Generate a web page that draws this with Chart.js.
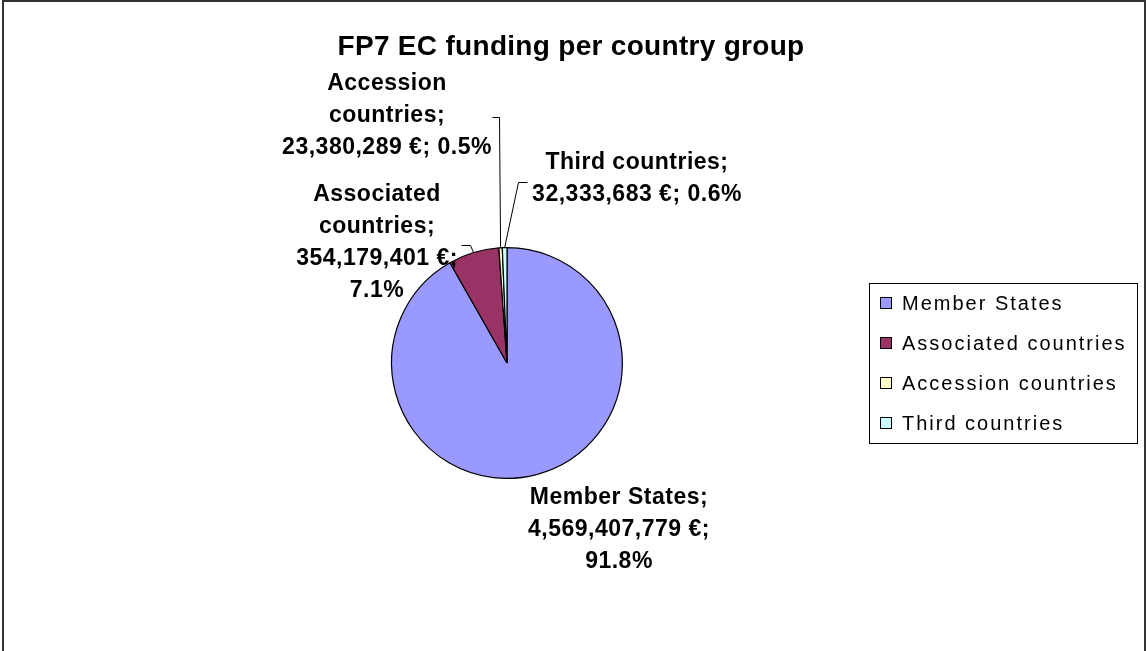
<!DOCTYPE html>
<html><head><meta charset="utf-8">
<script src="https://cdn.jsdelivr.net/npm/chart.js@4/dist/chart.umd.min.js"></script>
<style>html,body{margin:0;padding:0;background:#fff}#wrap{width:1146px;height:651px;position:relative}canvas{display:block}</style>
</head><body><div id="wrap"><canvas id="c" width="1146" height="651"></canvas></div>
<script>
const chartTitle = 'FP7 EC funding per country group';
const categories = ['Member States', 'Associated countries', 'Accession countries', 'Third countries'];
const funding = [4569407779, 354179401, 23380289, 32333683];
const colors = ['#9999FF', '#993366', '#FFFFCC', '#CCFFFF'];

// label layout (style only): words per line, offset of block centre from pie centre, leader elbow points
const labelLayout = [
  { lines: [2, 2, 1], dx: 112, dy: 167, leader: null },
  { lines: [1, 1, 2, 1], dx: -130, dy: -120, leader: [[-46, -118], [-37, -118]] },
  { lines: [1, 1, 3], dx: -120, dy: -247, leader: [[-15, -246], [-8, -246]] },
  { lines: [2, 3], dx: 130, dy: -184, leader: [[20, -181], [11, -181]] }
];
const FONT = '"Liberation Sans", Arial, sans-serif';

const total = funding.reduce((a, b) => a + b, 0);
function labelWords(i) {
  const pct = (funding[i] / total * 100).toFixed(1) + '%';
  return (categories[i] + '; ' + funding[i].toLocaleString('en-US') + ' €; ' + pct).split(' ');
}
function centerText(ctx, t, x, y) {
  const w = ctx.measureText(t).width;
  ctx.textAlign = 'left';
  ctx.fillText(t, x - w / 2, y);
}

const overlay = {
  id: 'overlay',
  afterDraw(chart) {
    const ctx = chart.ctx;
    const meta = chart.getDatasetMeta(0);
    ctx.save();
    // frame
    ctx.strokeStyle = '#333';
    ctx.lineWidth = 2;
    ctx.strokeRect(3, 1, 1142, 700);
    // title
    ctx.fillStyle = '#000';
    ctx.textBaseline = 'middle';
    ctx.letterSpacing = '0.3px';
    ctx.font = 'bold 28px ' + FONT;
    centerText(ctx, chartTitle, 571, 47);
    // data labels
    ctx.font = 'bold 23px ' + FONT;
    ctx.letterSpacing = '0.5px';
    meta.data.forEach((arc, i) => {
      const p = arc.getProps(['x', 'y', 'startAngle', 'endAngle', 'outerRadius'], true);
      const lay = labelLayout[i];
      const words = labelWords(i);
      const lines = [];
      let k = 0;
      lay.lines.forEach(n => { lines.push(words.slice(k, k + n).join(' ')); k += n; });
      const lh = 32;
      const bx = p.x + lay.dx, by = p.y + lay.dy;
      ctx.fillStyle = '#000';
      lines.forEach((t, j) => {
        centerText(ctx, t, bx, by + (j - (lines.length - 1) / 2) * lh);
      });
      if (lay.leader) {
        const mid = (p.startAngle + p.endAngle) / 2;
        const ex = p.x + Math.cos(mid) * p.outerRadius;
        const ey = p.y + Math.sin(mid) * p.outerRadius;
        ctx.beginPath();
        ctx.strokeStyle = '#000';
        ctx.lineWidth = 1;
        ctx.moveTo(p.x + lay.leader[0][0] + 0.5, p.y + lay.leader[0][1] + 0.5);
        ctx.lineTo(p.x + lay.leader[1][0] + 0.5, p.y + lay.leader[1][1] + 0.5);
        ctx.lineTo(ex, ey);
        ctx.stroke();
      }
    });
    // legend
    const lx = 869, ly = 283, lw = 268, lhgt = 160;
    ctx.fillStyle = '#fff';
    ctx.fillRect(lx, ly, lw, lhgt);
    ctx.strokeStyle = '#000';
    ctx.lineWidth = 1;
    ctx.strokeRect(lx + 0.5, ly + 0.5, lw, lhgt);
    ctx.font = '20px ' + FONT;
    ctx.letterSpacing = '2px';
    ctx.textAlign = 'left';
    categories.forEach((c, i) => {
      const y = ly + 20 + i * 40;
      ctx.fillStyle = colors[i];
      ctx.fillRect(880, y - 6, 12, 12);
      ctx.strokeStyle = '#000';
      ctx.strokeRect(880.5, y - 5.5, 11, 11);
      ctx.fillStyle = '#000';
      ctx.fillText(c, 902, y + 1);
    });
    ctx.restore();
  }
};

new Chart(document.getElementById('c'), {
  type: 'pie',
  data: {
    labels: categories,
    datasets: [{ data: funding, backgroundColor: colors, borderColor: '#000', borderWidth: 1.2, hoverOffset: 0 }]
  },
  options: {
    responsive: false,
    animation: false,
    devicePixelRatio: 1,
    layout: { padding: { left: 391, right: 523, top: 247, bottom: 172 } },
    plugins: { legend: { display: false }, tooltip: { enabled: false }, title: { display: false } }
  },
  plugins: [overlay]
});
</script>
</body></html>
